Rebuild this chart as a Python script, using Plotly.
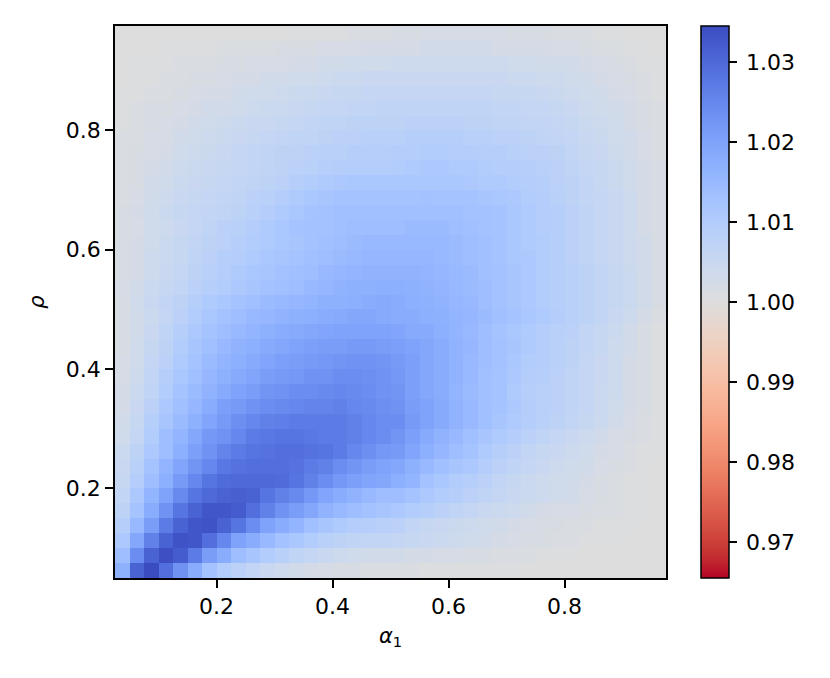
import plotly.graph_objects as go

alpha_edges = [0.025,0.05,0.075,0.1,0.125,0.15,0.175,0.2,0.225,0.25,0.275,0.3,0.325,0.35,0.375,0.4,0.425,0.45,0.475,0.5,
               0.525,0.55,0.575,0.6,0.625,0.65,0.675,0.7,0.725,0.75,0.775,0.8,0.825,0.85,0.875,0.9,0.925,0.95,0.975]
rho_edges = [0.05,0.075,0.1,0.125,0.15,0.175,0.2,0.225,0.25,0.275,0.3,0.325,0.35,0.375,0.4,0.425,0.45,0.475,0.5,
             0.525,0.55,0.575,0.6,0.625,0.65,0.675,0.7,0.725,0.75,0.775,0.8,0.825,0.85,0.875,0.9,0.925,0.95,0.975]

# excess over 1.000, in thousandths, bottom row first
excess = [
[17,31,34.5,29,23,18,13,10,8,6.5,5,4,3,2.5,2,1.5,1.5,1,1,1,1,.5,.5,.5,.5,.5,.5,.5,0,0,0,0,0,0,0,0,0,0],
[14,24,31,34,32,27,21,18,14,12,10,8.5,7,6,5,4,3.5,3,3,3,2.5,2.5,2,2,1.5,1.5,1,1,1,.5,.5,.5,0,0,0,0,0,0],
[11,19,26,31,33.5,33,29,25,20,18,15,13,11.5,10,8.5,7.5,7,6.5,6.5,6,5.5,5,4.5,4,3.5,3,2.5,2,1.5,1.5,1,1,.5,.5,.5,0,0,0],
[9,15,21,27,31,33,33.5,31,28,24,20,18,16,13.5,12,10.5,9.5,9,8.5,8,6.5,5.5,5,4.5,4,3.5,3,2.5,2,1.5,1.5,1,1,.5,.5,.5,0,0],
[7.5,12.5,18,23,28,31,33,33,32,29,26,23,21,19,16.5,15,14,13,12,11,10,9,8,7,6,5,4.5,4,3,2.5,2,2,1.5,1,1,.5,.5,0],
[6.5,11,16,20,24.5,28,30,31,31.5,31,28,26,24.5,22,19.5,18,16.5,15,14,14,12.5,11,10,9,8,7,6,5,4.5,4,3.5,3,2,1.5,1,.5,.5,0],
[5.5,9.5,14,17.5,21.5,25,28,29.5,30,30,30,29.5,28,26,24,22,20.5,19.5,19,17.5,16,13,11.5,10,9,8,6.5,5.5,4.5,4,3.5,3,2.5,1.5,1,.5,.5,0],
[5,8.5,12.5,16,19.5,22.5,25,27.5,28.5,29,29,29,28.5,27,26,24,22.5,21,20,19,17,15,13.5,12,11,9.5,8,7,6,5,4,3.5,3,2,1.5,1,.5,0],
[4.5,7.5,11,14,17.5,20.5,23,25.5,27,28,28.5,29,29,28.5,28,27,25,23.5,22,21.5,19.5,17.5,15.5,14,12.5,10.5,9,8,6.5,5.5,5,4,3.5,2.5,2,1,.5,.5],
[3.5,6,10,14,16,19,22,23,25,27,27.5,28,28,27.5,27,27,26,25,24,22.5,20.5,18.5,16.5,15,13.5,12,10.5,9.5,8,7,6,5,4,3,2,1.5,1,.5],
[3,5.5,9,12,14.5,17,19.5,21.5,23.5,25,26,26.5,27,27,27,27,26,25,24,24,21.5,20,18.5,16.5,15,13.5,12,10.5,9.5,8.5,7.5,6.5,5.5,4.5,3,2,1,.5],
[2.5,5,8,11,13.5,15.5,18,20.5,21.5,23,24,24.5,25,25.5,25.5,26,25,24.5,23.5,23,21,20,18.5,16.5,15,13.5,12.5,11,9.5,8.5,8,7,6,4.5,3.5,2.5,1.5,.5],
[2.5,4.5,7,10,12.5,14.5,16.5,18.5,20,21,22.5,23,24,24,24.5,25,24.5,24,23,22.5,20.5,19,18,16,14.5,13.5,12.5,10.5,9,8.5,8,7,6,4.5,4,2.5,1.5,.5],
[2,4,6.5,9,11.5,13.5,15.5,17,18.5,19.5,21,21.5,22,23,23,24,24,23.5,23,22,20.5,19,18,16.5,15,13.5,12.5,11,9.5,9,8,7,6,5,4,2.5,1.5,.5],
[2,3.5,6,8,10.5,12.5,14.5,16,17.5,18.5,19.5,20.5,21,21.5,22,22.5,23,23,22.5,21.5,20.5,19,18,16.5,15,14,13,11.5,10,9.5,8.5,7.5,6,5,4,2.5,1.5,.5],
[1.5,3.5,5.5,7.5,10,12,13.5,15,16.5,17.5,18.5,19,20,20.5,21,21,21.5,21.5,21,20.5,20,19,18,16.5,15.5,14,13,12,10.5,9.5,8.5,7.5,6.5,5.5,4,3,1.5,.5],
[1.5,3,5,7,9,11,12.5,14,15,16,17,18,18.5,19,19.5,20,20,20,20,19.5,18.5,18.5,17.5,16,15,14,12.5,11.5,10.5,9.5,8.5,8,6.5,5.5,4.5,3,1.5,.5],
[1.5,3,4.5,6,8,10,11.5,13,14,15,15.5,16.5,17,17.5,18,18.5,19,19,18.5,18,18,17.5,17,16,15.5,14.5,13.5,12.5,11.5,10.5,9.5,8.5,7.5,6.5,5,4,2.5,1],
[1.5,3.5,5,6.5,7.5,9,10.5,11.5,12.5,13.5,14.5,15,15.5,16,17,17,17.5,18,18.5,18,17.5,17,16.5,15.5,15,14,13,12,11,10,9,8.5,7.5,6.5,5.5,4.5,3,1.5],
[2,3,4.5,5.5,6.5,8,9,10,11,12,13,13.5,14,15,15.5,16.5,17,17,17.5,17.5,17,16.5,16,15,14.5,14,13,12,11,10,9,8.5,7.5,6.5,5.5,4.5,3,1.5],
[1.5,2.5,4,5,6,7.5,8.5,9.5,10.5,11.5,12,13,13.5,14,15,15.5,16,16.5,16.5,16.5,16.5,16,15.5,15,14.5,13.5,13,12,11,10,9,8.5,7.5,6.5,5.5,4.5,3,1.5],
[1.5,2.5,4,4.5,5.5,7,8,9,9.5,10.5,11.5,12,12.5,13.5,14,14.5,15,15.5,15.5,15.5,15.5,15.5,15,14.5,14,13.5,12.5,11.5,11,10,9,8,7,6,5,4,3,1.5],
[1.5,2.5,3.5,4.5,5.5,6.5,7.5,8,9,10,10.5,11.5,12,13,13.5,14,14.5,15,15,15,15,15,15,14.5,14,13.5,12.5,11.5,10.5,10,9,8,7,6,5,4,3,1.5],
[1.5,2,3.5,4,5,6,7,8,8.5,9.5,10.5,11.5,12.5,13,13,13.5,14,14,14,14,14.5,14.5,14.5,14,13.5,13,12.5,11.5,10.5,9.5,9,8,7,6,5,4,2.5,1.5],
[1.5,2.5,3.5,4.5,5.5,6,6.5,7,7.5,8.5,9.5,10.5,11.5,12.5,13,13.5,13.5,13.5,13.5,13.5,13.5,13.5,13.5,13.5,13,13,12.5,11.5,10.5,9.5,9,8,7,6,5,4,2.5,1.5],
[1,2,3,4,5,5.5,6,6.5,7,8,8.5,9.5,10.5,11.5,12,12.5,12.5,12.5,12.5,12.5,12.5,13,12.5,12.5,12.5,12,11.5,11,10,9.5,8.5,7.5,6.5,6,5,4,2.5,1.5],
[1,1.5,3,3.5,4.5,5,5.5,6,6.5,7,7.5,8,9,10,10.5,11,11.5,11.5,11.5,11.5,11.5,11.5,11.5,11.5,11,10.5,10.5,10,9.5,9,8,7.5,6.5,5.5,4.5,3.5,2.5,1.5],
[1,1.5,2.5,3,4,4.5,5,5.5,6,6.5,7,7.5,8,8.5,9,9.5,9.5,9.5,9.5,10,10.5,11,11,10.5,10.5,10,9.5,9.5,9,8.5,8,7,6,5.5,4.5,3.5,2.5,1.5],
[1,1.5,2,2.5,3.5,4,4.5,5,6,6.5,7,7.5,7.5,8,8.5,8.5,9,9,9,9.5,9.5,10,10,9.5,9.5,9,9,8.5,8,8,7.5,6.5,5.5,5,4,3,2,1],
[1,1,2,2,3,3.5,4,4.5,5,5.5,6,6.5,7,7,7.5,8,8,8.5,8.5,8.5,9,9,9,9,8.5,8.5,8,8,7.5,7,6.5,6,5,4.5,3.5,3,2,1],
[.5,1,1.5,2,2.5,3,3.5,4,4.5,5,5,5.5,6,6.5,7,7,7.5,7.5,7.5,7.5,8,8,8,8,7.5,7.5,7,7,6.5,6.5,6,5.5,4.5,4,3.5,2.5,1.5,1],
[.5,1,1.5,1.5,2,2.5,3,3,3.5,4,4.5,4.5,5,5.5,6,6,6.5,6.5,7,7,7,7,7,7,7,7,6.5,6.5,6,6,5.5,5,4,3.5,3,2.5,1.5,1],
[.5,.5,1,1,1.5,2,2.5,2.5,3,3.5,3.5,4,4.5,4.5,5,5.5,5.5,6,6,6,6,6,6,6,6,6,5.5,5.5,5.5,5,4.5,4,3.5,3,2.5,2,1,.5],
[0,.5,.5,1,1,1.5,1.5,2,2.5,2.5,3,3,3.5,3.5,4,4.5,4.5,5,5,5,5,5,5,5,5,5,5,4.5,4.5,4,4,3.5,3,2.5,2,1.5,1,.5],
[0,.5,.5,.5,1,1,1,1.5,1.5,2,2,2,2.5,2.5,3,3,3.5,3.5,3.5,4,4,4,4,4,4,4,4,3.5,3.5,3,3,3,2.5,2,1.5,1,.5,.5],
[0,0,0,.5,.5,.5,.5,1,1,1,1,1.5,1.5,1.5,2,2,2,2.5,2.5,2.5,2.5,3,3,3,3,3,2.5,2.5,2.5,2.5,2,2,1.5,1,1,.5,.5,0],
[0,0,0,0,0,0,0,0,0,0,0,0,.5,.5,.5,.5,1,1,1,1.5,1.5,2,2,2,2,2,2,1.5,1.5,1.5,1,1,1,.5,.5,0,0,0],
]
assert len(excess) == 37 and all(len(r) == 38 for r in excess)
ratio = [[1 + v / 1000 for v in row] for row in excess]

axis_ticks = [0.2, 0.4, 0.6, 0.8]
cbar_ticks = [0.97, 0.98, 0.99, 1.00, 1.01, 1.02, 1.03]
vmin, vmax = 0.9655, 1.0345

coolwarm_r = ["#b40426","#c0282f","#cb3e38","#d55042","#de604d","#e57058","#ec7f63","#f18d6f","#f49a7b","#f7a687",
              "#f7b194","#f7bba0","#f5c4ad","#f1ccb9","#ecd3c5","#e5d8d1","#dddddd","#d5dbe6","#ccd9ee","#c2d5f4",
              "#b8d0f9","#aec9fd","#a3c2ff","#98b9ff","#8db0fe","#82a5fb","#779af7","#6c8ef1","#6282ea","#5775e1",
              "#4d68d7","#445acc","#3b4cc0"]
scale = [[i / (len(coolwarm_r) - 1), c] for i, c in enumerate(coolwarm_r)]

FONT = "DejaVu Sans"
axis_style = dict(showgrid=False, zeroline=False, showline=True, linecolor="black", linewidth=1.5, mirror=True,
                  ticks="outside", ticklen=8, tickwidth=1.5, tickcolor="black",
                  tickvals=axis_ticks, ticktext=[f"{t:.1f}" for t in axis_ticks])

fig = go.Figure(go.Heatmap(
    x=alpha_edges, y=rho_edges, z=ratio, colorscale=scale, zmin=vmin, zmax=vmax, hoverongaps=False,
    colorbar=dict(x=1.0634, xanchor="left", xpad=0, y=0.5, yanchor="middle", ypad=0, len=1, lenmode="fraction",
                  thickness=28, thicknessmode="pixels", outlinecolor="black", outlinewidth=1.5,
                  tickvals=cbar_ticks, ticktext=["\u2009" + f"{t:.2f}" for t in cbar_ticks],
                  ticks="outside", ticklen=8, tickwidth=1.5, tickcolor="black",
                  tickfont=dict(family=FONT, size=22, color="black")),
))
fig.update_layout(
    width=830, height=678, autosize=False, paper_bgcolor="white", plot_bgcolor="white",
    margin=dict(l=107, r=172, t=18, b=108, pad=0),
    font=dict(family=FONT, size=22, color="black"),
)
fig.update_xaxes(range=[0.025, 0.975], title=dict(text="<i>α</i><sub>1</sub>", font=dict(size=21), standoff=10), **axis_style)
fig.update_yaxes(range=[0.05, 0.975], title=dict(text="<i>ρ</i>", font=dict(size=21), standoff=15), **axis_style)
fig.write_html("out.html")
